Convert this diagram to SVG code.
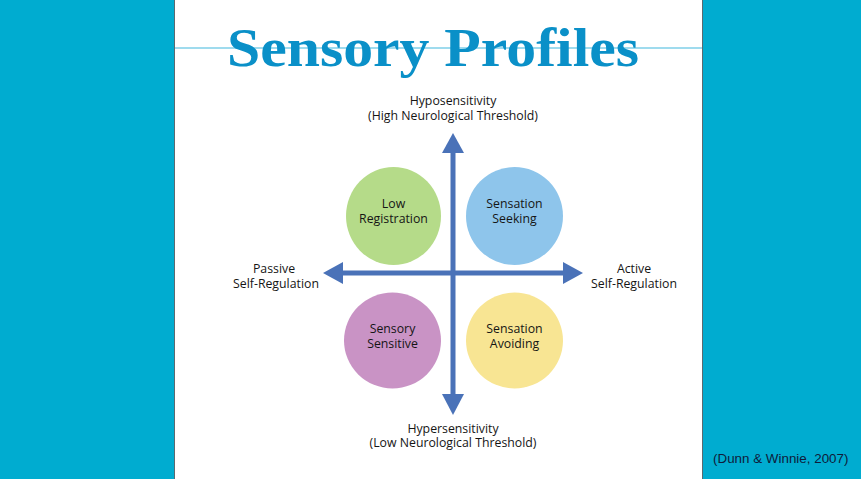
<svg xmlns="http://www.w3.org/2000/svg" width="861" height="479" viewBox="0 0 861 479">
<defs>
<style>
.lbl{font-family:"Open Sans","Noto Sans",sans-serif;font-size:12.3px;fill:#151515;text-anchor:middle}
.ax{stroke:#4a72b8;stroke-width:5;fill:none}
.ah{fill:#4a72b8}
</style>
</defs>
<rect x="0" y="0" width="861" height="479" fill="#00acd0"/>
<rect x="174" y="0" width="529" height="479" fill="#ffffff"/>
<line x1="174.5" y1="0" x2="174.5" y2="479" stroke="#5a6a70" stroke-width="1"/>
<line x1="702.5" y1="0" x2="702.5" y2="479" stroke="#5a6a70" stroke-width="1"/>
<line x1="175" y1="48" x2="702" y2="48" stroke="#7fcfe8" stroke-width="1.5"/>
<text x="433" y="66" font-family="'Liberation Serif','DejaVu Serif',serif" font-weight="bold" font-size="54" fill="#0a90c8" text-anchor="middle" textLength="412" lengthAdjust="spacingAndGlyphs">Sensory Profiles</text>

<g id="connectors">
<line class="ax" x1="453" y1="150" x2="453" y2="397"/>
<polygon class="ah" points="453,133 464,153 442,153"/>
<polygon class="ah" points="453,415 464,394 442,394"/>
<line class="ax" x1="340" y1="273" x2="566" y2="273"/>
<polygon class="ah" points="323,273 343,262 343,284"/>
<polygon class="ah" points="583,273 563,262 563,284"/>
</g>

<g id="low-registration">
<ellipse cx="393.5" cy="216" rx="47.5" ry="49" fill="#b5db89"/>
<text class="lbl" x="393.5" y="208">Low</text>
<text class="lbl" x="393.5" y="223">Registration</text>
</g>
<g id="sensation-seeking">
<ellipse cx="514.5" cy="216" rx="48.5" ry="49" fill="#8ec5eb"/>
<text class="lbl" x="514.5" y="208">Sensation</text>
<text class="lbl" x="514.5" y="223">Seeking</text>
</g>
<g id="sensory-sensitive">
<ellipse cx="392.5" cy="340.5" rx="48.5" ry="48" fill="#c993c5"/>
<text class="lbl" x="392.5" y="333">Sensory</text>
<text class="lbl" x="392.5" y="348">Sensitive</text>
</g>
<g id="sensation-avoiding">
<ellipse cx="514.5" cy="340.5" rx="48.5" ry="48" fill="#f8e593"/>
<text class="lbl" x="514.5" y="333">Sensation</text>
<text class="lbl" x="514.5" y="348">Avoiding</text>
</g>

<g id="top-label">
<text class="lbl" x="453" y="105">Hyposensitivity</text>
<text class="lbl" x="453" y="120">(High Neurological Threshold)</text>
</g>
<g id="bottom-label">
<text class="lbl" x="453" y="433">Hypersensitivity</text>
<text class="lbl" x="453" y="447">(Low Neurological Threshold)</text>
</g>
<g id="left-label">
<text class="lbl" x="274" y="273">Passive</text>
<text class="lbl" x="276" y="288">Self-Regulation</text>
</g>
<g id="right-label">
<text class="lbl" x="634" y="273">Active</text>
<text class="lbl" x="634" y="288">Self-Regulation</text>
</g>

<text x="713" y="463" font-family="'Liberation Sans',Arial,sans-serif" font-size="13.4" fill="#0f1b3a">(Dunn &amp; Winnie, 2007)</text>
</svg>
